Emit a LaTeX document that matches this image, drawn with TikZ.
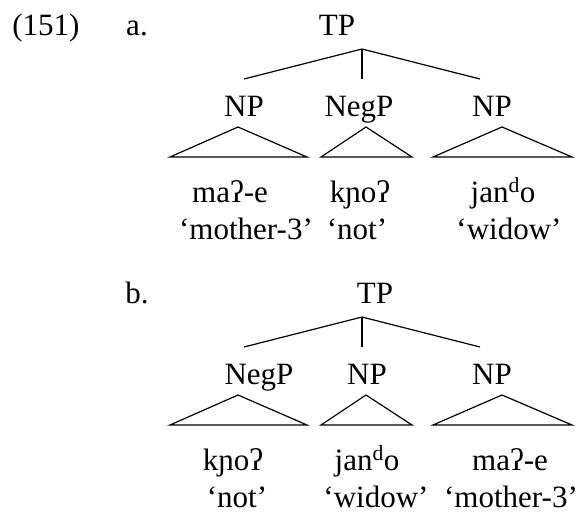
\documentclass[tikz,border=0pt]{standalone}
\usepackage{fontspec}
\setmainfont{Liberation Serif}
\begin{document}
\begin{tikzpicture}[x=1pt,y=-1pt,
  lbl/.style={anchor=base,inner sep=0pt,font=\fontsize{31}{37}\selectfont},
  edge/.style={line width=1.2pt},
  tri/.style={line width=1.2pt,line join=miter}]
\useasboundingbox (0,0) rectangle (584,514);

% example number and sub-labels
\node[lbl] (exnum) at (46,35) {(151)};
\node[lbl] (suba) at (137,35) {a.};
\node[lbl] (subb) at (137,303) {b.};

% ---------- tree a ----------
\node[lbl] (aTP) at (337,35) {TP};
\coordinate (aroot) at (362,49);
\coordinate (ac1) at (244,79);
\coordinate (ac2) at (362,79);
\coordinate (ac3) at (480,79);
\draw[edge] (aroot) -- (ac1);
\draw[edge] (aroot) -- (ac2);
\draw[edge] (aroot) -- (ac3);

\node[lbl] (aNP1) at (244,116) {NP};
\node[lbl] (aNeg) at (359,116) {NegP};
\node[lbl] (aNP2) at (492,116) {NP};

\coordinate (at1) at (238,127);
\coordinate (at1l) at (170,157);
\coordinate (at1r) at (307,157);
\coordinate (at2) at (366,127);
\coordinate (at2l) at (321,157);
\coordinate (at2r) at (412,157);
\coordinate (at3) at (502,127);
\coordinate (at3l) at (433,157);
\coordinate (at3r) at (572,157);
\draw[tri] (at1) -- (at1l) -- (at1r) -- cycle;
\draw[tri] (at2) -- (at2l) -- (at2r) -- cycle;
\draw[tri] (at3) -- (at3l) -- (at3r) -- cycle;

\node[lbl] (aw1) at (230,202) {maʔ-e};
\node[lbl] (aw2) at (360,202) {kɲoʔ};
\node[lbl] (aw3) at (503,202) {jan\textsuperscript{d}o};
\node[lbl] (ag1) at (246,239) {‘mother-3’};
\node[lbl] (ag2) at (357,239) {‘not’};
\node[lbl] (ag3) at (509,239) {‘widow’};

% ---------- tree b ----------
\node[lbl] (bTP) at (375,303) {TP};
\coordinate (broot) at (362,317);
\coordinate (bc1) at (244,347);
\coordinate (bc2) at (362,347);
\coordinate (bc3) at (480,347);
\draw[edge] (broot) -- (bc1);
\draw[edge] (broot) -- (bc2);
\draw[edge] (broot) -- (bc3);

\node[lbl] (bNeg) at (259,384) {NegP};
\node[lbl] (bNP1) at (367,384) {NP};
\node[lbl] (bNP2) at (492,384) {NP};

\coordinate (bt1) at (238,395);
\coordinate (bt1l) at (170,425);
\coordinate (bt1r) at (307,425);
\coordinate (bt2) at (366,395);
\coordinate (bt2l) at (321,425);
\coordinate (bt2r) at (412,425);
\coordinate (bt3) at (502,395);
\coordinate (bt3l) at (433,425);
\coordinate (bt3r) at (572,425);
\draw[tri] (bt1) -- (bt1l) -- (bt1r) -- cycle;
\draw[tri] (bt2) -- (bt2l) -- (bt2r) -- cycle;
\draw[tri] (bt3) -- (bt3l) -- (bt3r) -- cycle;

\node[lbl] (bw1) at (233,470) {kɲoʔ};
\node[lbl] (bw2) at (367,470) {jan\textsuperscript{d}o};
\node[lbl] (bw3) at (510,470) {maʔ-e};
\node[lbl] (bg1) at (237,507) {‘not’};
\node[lbl] (bg2) at (376,507) {‘widow’};
\node[lbl] (bg3) at (511,507) {‘mother-3’};
\end{tikzpicture}
\end{document}
